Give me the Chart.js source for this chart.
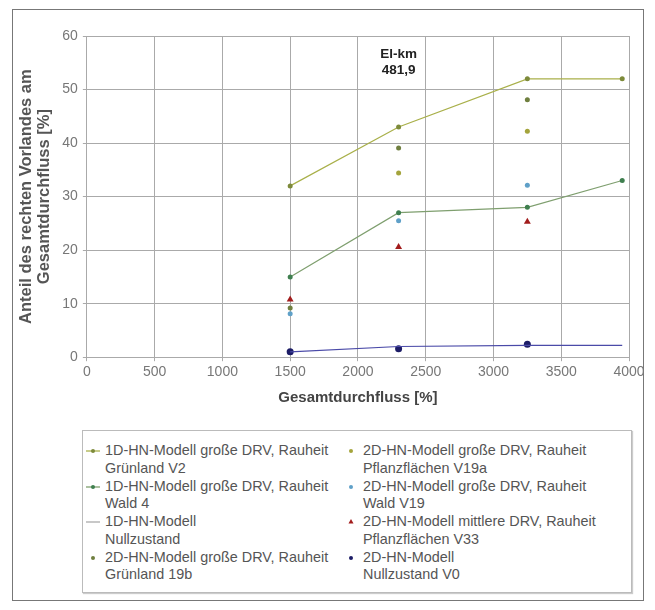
<!DOCTYPE html>
<html>
<head>
<meta charset="utf-8">
<script src="https://cdn.jsdelivr.net/npm/chart.js@4/dist/chart.umd.min.js"></script>
<style>
  body { margin:0; background:#fff; font-family:"Liberation Sans", Arial, sans-serif; }
  #rahmen { position:absolute; left:12px; top:9px; width:630px; height:590px; border:1px solid #777; }
  #wrap { position:absolute; left:0; top:0; width:655px; height:415px; }
  #legende { position:absolute; left:82px; top:430px; width:550px; height:163px; border:1px solid #bbb;
    box-shadow:1px 1px 1px #ccc; display:grid; grid-template-columns:258px 290px; grid-auto-flow:column;
    grid-template-rows:repeat(4, 35.5px); padding:11px 0 0 3px; box-sizing:border-box; font-size:14.4px; color:#555; line-height:17.5px; }
  .eintrag { position:relative; padding-left:19px; white-space:nowrap; }
  .sym { position:absolute; left:0; top:0; width:18px; height:17px; }
</style>
</head>
<body>
<div id="rahmen"></div>
<div id="wrap"><canvas id="grafik" width="655" height="415"></canvas></div>
<div id="legende"></div>
<script>
// Abfluss-Stufen
const xLinie = [1500, 2300, 3250, 3950]
const xPunkte = [1500, 2300, 3250]
// 1D-Linien
const gruenlandV2 = [32, 43, 52, 52]
const wald4 = [15, 27, 28, 33]
const nullLinie = [1.0, 2.0, 2.2, 2.2]
// 2D-Punkte
const gruenland19b = [9.2, 39.1, 48.1]
const pflanzV19a = [null, 34.4, 42.2]
const waldV19 = [8.1, 25.5, 32.1]
const mittlereV33 = [10.8, 20.6, 25.3]
const nullV0 = [1.0, 1.6, 2.4]
const xTicks = [0, 500, 1000, 1500, 2000, 2500, 3000, 3500, 4000]

function punkte(xs, ys){
  let out = []
  xs.forEach((x, i) => { if (ys[i] !== null) out.push({x: x, y: ys[i]}) })
  return out
}

const serien = [
  {label:['1D-HN-Modell große DRV, Rauheit','Grünland V2'], data:punkte(xLinie, gruenlandV2), showLine:true,
   borderColor:'#a9b04a', backgroundColor:'#7d8a3a', pointRadius:2.5, pointBorderWidth:0, borderWidth:1.2, sym:'linie'},
  {label:['1D-HN-Modell große DRV, Rauheit','Wald 4'], data:punkte(xLinie, wald4), showLine:true,
   borderColor:'#7f9f6f', backgroundColor:'#3f7f4f', pointRadius:2.5, pointBorderWidth:0, borderWidth:1.2, sym:'linie'},
  {label:['1D-HN-Modell','Nullzustand'], data:punkte(xLinie, nullLinie), showLine:true,
   borderColor:'#4a4aa8', backgroundColor:'#4a4aa8', pointRadius:0, borderWidth:1.2, sym:'nur'},
  {label:['2D-HN-Modell große DRV, Rauheit','Grünland 19b'], data:punkte(xPunkte, gruenland19b), showLine:false,
   backgroundColor:'#6f7f3f', borderColor:'#6f7f3f', pointRadius:2.5, pointBorderWidth:0, sym:'punkt'},
  {label:['2D-HN-Modell große DRV, Rauheit','Pflanzflächen V19a'], data:punkte(xPunkte, pflanzV19a), showLine:false,
   backgroundColor:'#a4a43c', borderColor:'#a4a43c', pointRadius:2.5, pointBorderWidth:0, sym:'punkt'},
  {label:['2D-HN-Modell große DRV, Rauheit','Wald V19'], data:punkte(xPunkte, waldV19), showLine:false,
   backgroundColor:'#5fa0c8', borderColor:'#5fa0c8', pointRadius:2.5, pointBorderWidth:0, sym:'punkt'},
  {label:['2D-HN-Modell mittlere DRV, Rauheit','Pflanzflächen V33'], data:punkte(xPunkte, mittlereV33), showLine:false,
   backgroundColor:'#a21c1c', borderColor:'#a21c1c', pointStyle:'triangle', pointRadius:4, pointBorderWidth:0, sym:'dreieck'},
  {label:['2D-HN-Modell','Nullzustand V0'], data:punkte(xPunkte, nullV0), showLine:false,
   backgroundColor:'#1c1c66', borderColor:'#1c1c66', pointRadius:3.5, pointBorderWidth:0, sym:'punkt'}
]

// Text El-km im Diagramm
const beschriftung = {
  id:'beschriftung',
  afterDatasetsDraw(chart){
    const c = chart.ctx
    const x = chart.scales.x.getPixelForValue(2300)
    const y = chart.scales.y.getPixelForValue(56.6)
    c.save()
    c.font = 'bold 13.5px "Liberation Sans", Arial'
    c.fillStyle = '#222'
    c.textAlign = 'center'
    c.textBaseline = 'middle'
    c.fillText('El-km', x, y)
    c.fillText('481,9', x, y + 16)
    c.restore()
  }
}

const tickFont = { size:14, family:'"Liberation Sans", Arial' }

new Chart(document.getElementById('grafik'), {
  type:'scatter',
  data:{ datasets: serien },
  options:{
    responsive:false,
    animation:false,
    layout:{ padding:{ left:17, right:26, top:36, bottom:6 } },
    plugins:{ legend:{ display:false }, tooltip:{ enabled:false } },
    scales:{
      x:{ type:'linear', min:0, max:4000,
        afterBuildTicks(ax){ ax.ticks = xTicks.map(v => ({value:v})) },
        ticks:{ color:'#777', font:tickFont, padding:3, callback: v => String(v) },
        grid:{ color:'#aaa', tickLength:4 },
        border:{ color:'#aaa' },
        title:{ display:true, text:'Gesamtdurchfluss [%]', color:'#444', font:{ size:15, weight:'bold', family:'"Liberation Sans", Arial' }, padding:{top:5, bottom:2} }
      },
      y:{ min:0, max:60,
        ticks:{ stepSize:10, color:'#777', font:tickFont, padding:5 },
        grid:{ color:'#aaa', tickLength:4 },
        border:{ color:'#aaa' },
        title:{ display:true, text:['Anteil des rechten Vorlandes am','Gesamtdurchfluss [%]'], color:'#555',
          font:{ size:16.5, weight:'bold', family:'"Liberation Sans", Arial', lineHeight:1.1 }, padding:{top:0, bottom:4} }
      }
    }
  },
  plugins:[beschriftung]
})

// Legende als HTML
const leg = document.getElementById('legende')
serien.forEach(s => {
  let d = document.createElement('div')
  d.className = 'eintrag'
  let sym = ''
  let farbe = s.sym === 'linie' || s.sym === 'nur' ? s.borderColor : s.backgroundColor
  if (s.sym === 'linie') sym = '<svg class="sym"><line x1="0" y1="9" x2="14" y2="9" stroke="'+s.borderColor+'" stroke-width="1.3"/><circle cx="7" cy="9" r="2" fill="'+s.backgroundColor+'"/></svg>'
  if (s.sym === 'nur') sym = '<svg class="sym"><line x1="0" y1="9" x2="14" y2="9" stroke="#aaa" stroke-width="1.3"/></svg>'
  if (s.sym === 'punkt') sym = '<svg class="sym"><circle cx="7" cy="9" r="2" fill="'+farbe+'"/></svg>'
  if (s.sym === 'dreieck') sym = '<svg class="sym"><polygon points="7,6 9.5,10.5 4.5,10.5" fill="'+farbe+'"/></svg>'
  d.innerHTML = sym + s.label.join('<br>')
  leg.appendChild(d)
})
</script>
</body>
</html>
